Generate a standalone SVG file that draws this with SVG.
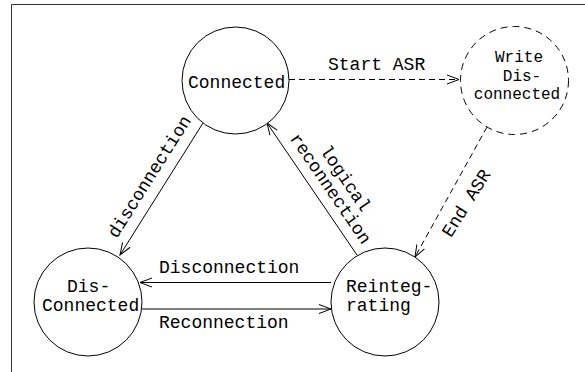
<svg xmlns="http://www.w3.org/2000/svg" width="585" height="372" viewBox="0 0 585 372">
<defs>
<style>
text{font-family:"Courier New","Nimbus Mono PS","FreeMono","Liberation Mono",monospace;font-size:18px;fill:#000}
.small{font-size:16px}
.node{fill:#fff;stroke:#000;stroke-width:1}
.dash{stroke-dasharray:7 5}
.edge{fill:none;stroke:#000;stroke-width:1}
.edash{stroke-dasharray:6 4}
.mid{text-anchor:middle}
</style>
<marker id="arr" markerUnits="userSpaceOnUse" markerWidth="16" markerHeight="12" refX="12" refY="6" orient="auto" viewBox="0 0 16 12">
<path d="M0,1.5 L12,6 L0,10.5" fill="none" stroke="#000" stroke-width="1"/>
</marker>
</defs>
<rect width="585" height="372" fill="#fff"/>
<path d="M11.5,372 V4.5 H585" fill="none" stroke="#333" stroke-width="1"/>
<g id="connectors">
<line class="edge" x1="203" y1="123" x2="120" y2="255" marker-end="url(#arr)"/>
<line class="edge" x1="357" y1="255" x2="267" y2="123" marker-end="url(#arr)"/>
<line class="edge edash" x1="289" y1="79.5" x2="459" y2="79.5" marker-end="url(#arr)"/>
<line class="edge edash" x1="487" y1="127" x2="415" y2="257" marker-end="url(#arr)"/>
<line class="edge" x1="331" y1="282.5" x2="140" y2="282.5" marker-end="url(#arr)"/>
<line class="edge" x1="142" y1="309" x2="331" y2="309" marker-end="url(#arr)"/>
<text x="328" y="70">Start ASR</text>
<text x="159" y="273">Disconnection</text>
<text x="159" y="328">Reconnection</text>
<g transform="translate(150,177) rotate(-57.8)"><text class="mid" x="0" y="5">disconnection</text></g>
<g transform="translate(330,189) rotate(55.7)"><text class="mid" x="0" y="5">reconnection</text><text class="mid" x="0" y="-13">logical</text></g>
<g transform="translate(466,203) rotate(-58)"><text class="mid" x="0" y="6">End ASR</text></g>
</g>
<g id="connected">
<circle class="node" cx="235.5" cy="80.5" r="53.5"/>
<text x="188" y="88">Connected</text>
</g>
<g id="write-disconnected">
<circle class="node dash" cx="514.5" cy="80.5" r="54"/>
<text class="small mid" x="519" y="62">Write</text>
<text class="small mid" x="522" y="80.5">Dis-</text>
<text class="small mid" x="517" y="99">connected</text>
</g>
<g id="disconnected">
<circle class="node" cx="88" cy="302" r="54"/>
<text x="67" y="292">Dis-</text>
<text x="42" y="311">Connected</text>
</g>
<g id="reintegrating">
<circle class="node" cx="385" cy="302" r="54"/>
<text x="346" y="292">Reinteg-</text>
<text x="346" y="311">rating</text>
</g>
</svg>
